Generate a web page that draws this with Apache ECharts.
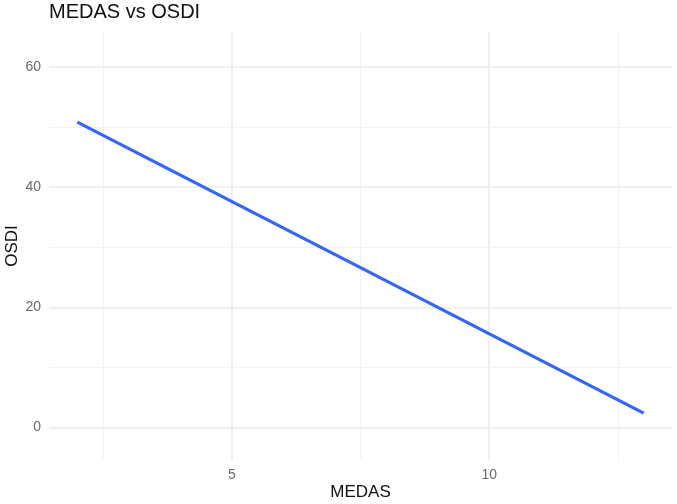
<!DOCTYPE html>
<html>
<head>
<meta charset="utf-8">
<script src="https://cdn.jsdelivr.net/npm/echarts@6/dist/echarts.min.js"></script>
<style>
  html, body { margin: 0; padding: 0; background: #fff; }
  #chart { width: 677px; height: 504px; }
</style>
</head>
<body>
<div id="chart"></div>
<script>
// fitted line endpoints
var medas = [2, 13];
var osdi = [50.8, 2.4];

var xTicks = [5, 10];
var yTicks = [0, 20, 40, 60];
var xMinor = [2.5, 7.5, 12.5];
var yMinor = [10, 30, 50];

var font = 'Liberation Sans, Arial, sans-serif';

var gridLines = [];
xTicks.forEach(function (v) {
  gridLines.push({xAxis: v, lineStyle: {color: '#ebebeb', width: 1.6, type: 'solid'}});
});
xMinor.forEach(function (v) {
  gridLines.push({xAxis: v, lineStyle: {color: '#f3f3f3', width: 1, type: 'solid'}});
});
yTicks.forEach(function (v) {
  gridLines.push({yAxis: v, lineStyle: {color: '#ebebeb', width: 1.6, type: 'solid'}});
});
yMinor.forEach(function (v) {
  gridLines.push({yAxis: v, lineStyle: {color: '#f3f3f3', width: 1, type: 'solid'}});
});

var chart = echarts.init(document.getElementById('chart'));
chart.setOption({
  animation: false,
  backgroundColor: '#fff',
  title: {
    text: 'MEDAS vs OSDI',
    left: 49,
    top: 2,
    padding: 0,
    textStyle: {fontFamily: font, fontSize: 20, fontWeight: 'normal', color: '#111'}
  },
  grid: {left: 49, right: 5, top: 32, bottom: 44, containLabel: false, outerBoundsMode: 'none'},
  xAxis: {
    type: 'value',
    min: 1.45,
    max: 13.55,
    name: 'MEDAS',
    nameLocation: 'middle',
    nameGap: 24,
    nameMoveOverlap: false,
    nameTextStyle: {fontFamily: font, fontSize: 17, color: '#111'},
    axisLine: {show: false},
    axisTick: {show: false},
    splitLine: {show: false},
    axisLabel: {customValues: xTicks, margin: 8, fontFamily: font, fontSize: 14, color: '#6b6b6b'}
  },
  yAxis: {
    type: 'value',
    min: -5.4,
    max: 65.8,
    name: 'OSDI',
    nameLocation: 'middle',
    nameGap: 28,
    nameMoveOverlap: false,
    nameTextStyle: {fontFamily: font, fontSize: 17, color: '#111'},
    axisLine: {show: false},
    axisTick: {show: false},
    splitLine: {show: false},
    axisLabel: {customValues: yTicks, margin: 8, fontFamily: font, fontSize: 14, color: '#6b6b6b'}
  },
  series: [{
    type: 'line',
    data: medas.map(function (x, i) { return [x, osdi[i]]; }),
    showSymbol: false,
    lineStyle: {color: '#3366ff', width: 3.2},
    z: 3,
    markLine: {
      silent: true,
      symbol: 'none',
      label: {show: false},
      z: 1,
      data: gridLines
    }
  }]
});
</script>
</body>
</html>
